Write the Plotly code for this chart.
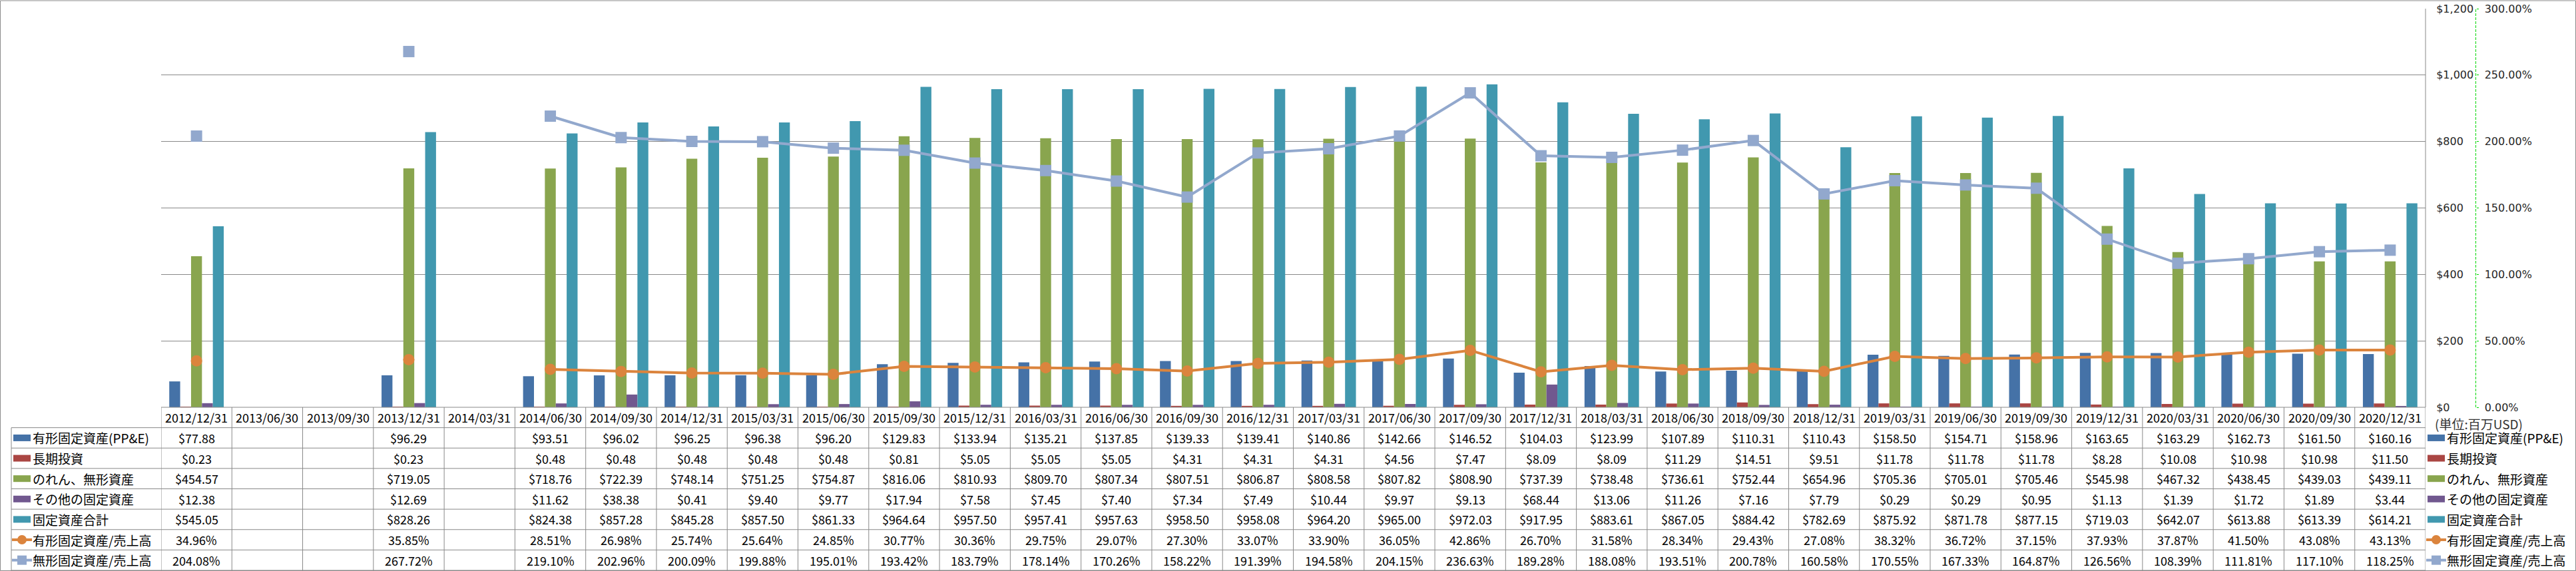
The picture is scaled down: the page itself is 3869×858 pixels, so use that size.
import plotly.graph_objects as go

# ---------------- data ----------------
categories = ["2012/12/31", "2013/06/30", "2013/09/30", "2013/12/31", "2014/03/31", "2014/06/30",
              "2014/09/30", "2014/12/31", "2015/03/31", "2015/06/30", "2015/09/30", "2015/12/31",
              "2016/03/31", "2016/06/30", "2016/09/30", "2016/12/31", "2017/03/31", "2017/06/30",
              "2017/09/30", "2017/12/31", "2018/03/31", "2018/06/30", "2018/09/30", "2018/12/31",
              "2019/03/31", "2019/06/30", "2019/09/30", "2019/12/31", "2020/03/31", "2020/06/30",
              "2020/09/30", "2020/12/31"]

ppe = [77.88, None, None, 96.29, None, 93.51, 96.02, 96.25, 96.38, 96.20, 129.83, 133.94,
       135.21, 137.85, 139.33, 139.41, 140.86, 142.66, 146.52, 104.03, 123.99, 107.89, 110.31, 110.43,
       158.50, 154.71, 158.96, 163.65, 163.29, 162.73, 161.50, 160.16]
long_term_inv = [0.23, None, None, 0.23, None, 0.48, 0.48, 0.48, 0.48, 0.48, 0.81, 5.05,
                 5.05, 5.05, 4.31, 4.31, 4.31, 4.56, 7.47, 8.09, 8.09, 11.29, 14.51, 9.51,
                 11.78, 11.78, 11.78, 8.28, 10.08, 10.98, 10.98, 11.50]
goodwill_intangibles = [454.57, None, None, 719.05, None, 718.76, 722.39, 748.14, 751.25, 754.87, 816.06, 810.93,
                        809.70, 807.34, 807.51, 806.87, 808.58, 807.82, 808.90, 737.39, 738.48, 736.61, 752.44, 654.96,
                        705.36, 705.01, 705.46, 545.98, 467.32, 438.45, 439.03, 439.11]
other_fixed = [12.38, None, None, 12.69, None, 11.62, 38.38, 0.41, 9.40, 9.77, 17.94, 7.58,
               7.45, 7.40, 7.34, 7.49, 10.44, 9.97, 9.13, 68.44, 13.06, 11.26, 7.16, 7.79,
               0.29, 0.29, 0.95, 1.13, 1.39, 1.72, 1.89, 3.44]
total_fixed = [545.05, None, None, 828.26, None, 824.38, 857.28, 845.28, 857.50, 861.33, 964.64, 957.50,
               957.41, 957.63, 958.50, 958.08, 964.20, 965.00, 972.03, 917.95, 883.61, 867.05, 884.42, 782.69,
               875.92, 871.78, 877.15, 719.03, 642.07, 613.88, 613.39, 614.21]
ppe_to_sales = [34.96, None, None, 35.85, None, 28.51, 26.98, 25.74, 25.64, 24.85, 30.77, 30.36,
                29.75, 29.07, 27.30, 33.07, 33.90, 36.05, 42.86, 26.70, 31.58, 28.34, 29.43, 27.08,
                38.32, 36.72, 37.15, 37.93, 37.87, 41.50, 43.08, 43.13]
intangible_to_sales = [204.08, None, None, 267.72, None, 219.10, 202.96, 200.09, 199.88, 195.01, 193.42, 183.79,
                       178.14, 170.26, 158.22, 191.39, 194.58, 204.15, 236.63, 189.28, 188.08, 193.51, 200.78, 160.58,
                       170.55, 167.33, 164.87, 126.56, 108.39, 111.81, 117.10, 118.25]

bar_names = ["有形固定資産(PP&E)", "長期投資", "のれん、無形資産", "その他の固定資産", "固定資産合計"]
line_names = ["有形固定資産/売上高", "無形固定資産/売上高"]
y_ticks_usd = [0, 200, 400, 600, 800, 1000, 1200]
y_ticks_pct = [0, 50, 100, 150, 200, 250, 300]
unit_label = "(単位:百万USD)"

# ---------------- style ----------------
bar_colors = ["#4572A7", "#AA4643", "#89A54E", "#71588F", "#4198AF"]
line_colors = ["#DB843D", "#92A8CD"]
GRID = "#898989"
TABLE_FONT = "Noto Sans CJK JP"
AXIS_FONT = "DejaVu Sans"
CELL_SIZE = 18
LABEL_SIZE = 19

W, H = 3869, 858
PL, PR, PT, PB = 242, 3643, 13, 612
PAPER_R = 3859
PW = PAPER_R - PL
PH = PB - PT


def fx(x):
    return (x - PL) / PW


def fy(y):
    return (PB - y) / PH


fig = go.Figure()

bar_series = [ppe, long_term_inv, goodwill_intangibles, other_fixed, total_fixed]
for name, vals, col in zip(bar_names, bar_series, bar_colors):
    fig.add_trace(go.Bar(x=categories, y=vals, name=name, marker=dict(color=col, line=dict(width=0)),
                         yaxis="y", showlegend=False))

line_series = [ppe_to_sales, intangible_to_sales]
line_symbols = ["circle", "square"]
for name, vals, col, sym in zip(line_names, line_series, line_colors, line_symbols):
    fig.add_trace(go.Scatter(x=categories, y=vals, name=name, mode="lines+markers", yaxis="y2",
                             line=dict(color=col, width=4), connectgaps=False,
                             marker=dict(symbol=sym, size=17, color=col, line=dict(width=0)),
                             showlegend=False))

shapes = []
annotations = []

# outer chart border
shapes.append(dict(type="rect", xref="paper", yref="paper", x0=fx(0.5), x1=fx(3868.5), y0=fy(857.5), y1=fy(1),
                   line=dict(color="#8C8C8C", width=1), layer="below"))
# plot right border
shapes.append(dict(type="line", xref="paper", yref="paper", x0=fx(PR), x1=fx(PR), y0=0, y1=1,
                   line=dict(color=GRID, width=1)))
# secondary axis dashed green line
shapes.append(dict(type="line", xref="paper", yref="paper", x0=fx(3718.5), x1=fx(3718.5), y0=0, y1=1,
                   line=dict(color="#00D800", width=1, dash="4px,2px")))

# table grid
row_edges = [PB + (857 - PB) * k / 8 for k in range(9)]
for k, ye in enumerate(row_edges):
    x0 = PL if k == 0 else 17
    shapes.append(dict(type="line", xref="paper", yref="paper", x0=fx(x0), x1=fx(PR), y0=fy(ye), y1=fy(ye),
                       line=dict(color=GRID, width=1)))
for i in range(len(categories) + 1):
    shapes.append(dict(type="line", xref="x", yref="paper", x0=i - 0.5, x1=i - 0.5, y0=fy(PB), y1=fy(857),
                       line=dict(color=GRID, width=1)))
shapes.append(dict(type="line", xref="paper", yref="paper", x0=fx(17), x1=fx(17), y0=fy(row_edges[1]), y1=fy(857),
                   line=dict(color=GRID, width=1)))

row_centers = [(row_edges[k] + row_edges[k + 1]) / 2 for k in range(8)]

# header row: category labels
for c in categories:
    annotations.append(dict(xref="x", yref="paper", x=c, y=fy(row_centers[0]), text=c, showarrow=False,
                            xanchor="center", yanchor="middle",
                            font=dict(family=TABLE_FONT, size=CELL_SIZE, color="#000")))

all_series = bar_series + line_series
for r, vals in enumerate(all_series):
    for c, v in zip(categories, vals):
        if v is None:
            continue
        txt = f"${v:,.2f}" if r < 5 else f"{v:.2f}%"
        annotations.append(dict(xref="x", yref="paper", x=c, y=fy(row_centers[r + 1]), text=txt, showarrow=False,
                                xanchor="center", yanchor="middle",
                                font=dict(family=TABLE_FONT, size=CELL_SIZE, color="#000")))


def legend_entry(idx, key_left, text_left):
    yc = row_centers[idx + 1]
    name = (bar_names + line_names)[idx]
    if idx < 5:
        shapes.append(dict(type="rect", xref="paper", yref="paper", x0=fx(key_left + 2), x1=fx(key_left + 28),
                           y0=fy(yc + 5), y1=fy(yc - 5), line=dict(width=0), fillcolor=bar_colors[idx]))
    else:
        col = line_colors[idx - 5]
        shapes.append(dict(type="line", xref="paper", yref="paper", x0=fx(key_left), x1=fx(key_left + 30),
                           y0=fy(yc), y1=fy(yc), line=dict(color=col, width=4)))
        xc = key_left + 15
        shapes.append(dict(type="circle" if idx == 5 else "rect", xref="paper", yref="paper",
                           x0=fx(xc - 7), x1=fx(xc + 7), y0=fy(yc + 7), y1=fy(yc - 7),
                           line=dict(width=0), fillcolor=col))
    annotations.append(dict(xref="paper", yref="paper", x=fx(text_left), y=fy(yc), text=name, showarrow=False,
                            xanchor="left", yanchor="middle",
                            font=dict(family=TABLE_FONT, size=LABEL_SIZE, color="#000")))


for idx in range(7):
    legend_entry(idx, 18, 47)
    legend_entry(idx, 3644, 3673)

annotations.append(dict(xref="paper", yref="paper", x=fx(3655), y=fy(636), text=unit_label, showarrow=False,
                        xanchor="left", yanchor="middle", font=dict(family=TABLE_FONT, size=19, color="#333")))

usd_text = [f"${v:,}" for v in y_ticks_usd]
pct_text = [f"{v:.2f}%" for v in y_ticks_pct]

fig.update_layout(
    width=W, height=H, autosize=False,
    margin=dict(l=PL, r=W - PAPER_R, t=PT, b=H - PB, pad=0, autoexpand=False),
    paper_bgcolor="white", plot_bgcolor="white",
    barmode="group", bargap=0.23, bargroupgap=0,
    showlegend=False,
    xaxis=dict(domain=[0, fx(PR)], type="category", range=[-0.5, len(categories) - 0.5], automargin=False,
               showticklabels=False, showgrid=False, zeroline=False, showline=False, ticks=""),
    yaxis=dict(side="right", range=[0, 1200], tickmode="array", tickvals=y_ticks_usd, ticktext=usd_text,
               showgrid=True, gridcolor=GRID, gridwidth=1, zeroline=False, showline=False, automargin=False,
               ticks="outside", ticklen=12, tickcolor="rgba(0,0,0,0)",
               tickfont=dict(family=AXIS_FONT, size=16, color="#262626")),
    yaxis2=dict(overlaying="y", side="right", anchor="free", position=fx(3718.5), range=[0, 300],
                tickmode="array", tickvals=y_ticks_pct, ticktext=pct_text, showgrid=False, zeroline=False,
                showline=False, automargin=False, ticks="outside", ticklen=3, tickcolor="#00D800", tickwidth=1,
                ticklabelstandoff=6, tickfont=dict(family=AXIS_FONT, size=16, color="#262626")),
    shapes=shapes, annotations=annotations,
)

fig.write_html("out.html", config={"displayModeBar": False},
               post_script="document.body.style.margin='0';document.body.style.overflow='hidden';")
